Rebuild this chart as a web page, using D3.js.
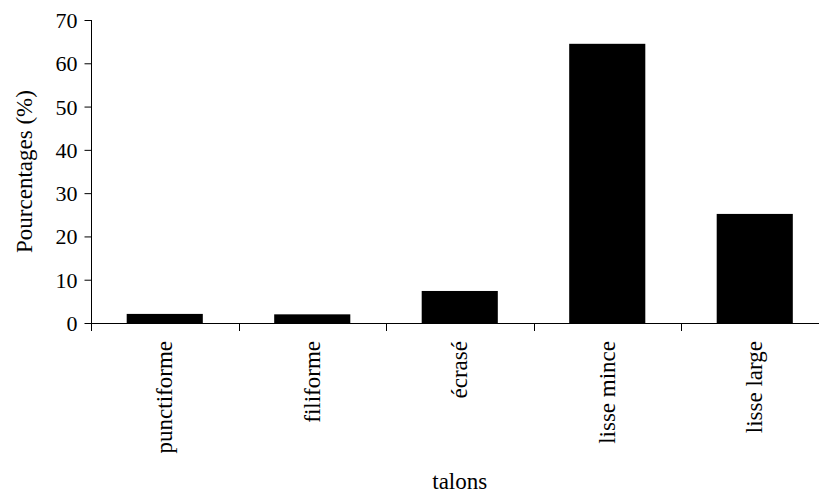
<!DOCTYPE html>
<html><head><meta charset="utf-8">
<script src="https://cdn.jsdelivr.net/npm/d3@7"></script>
</head><body style="margin:0;background:#fff;font-family:'Times New Roman',serif">
<svg id="c" width="819" height="493" style="font-family:'Times New Roman',serif"></svg>
<script>
const categories = ["punctiforme","filiforme","écrasé","lisse mince","lisse large"];
const values = [2.1, 2.0, 7.4, 64.5, 25.2];
const yTicks = [0,10,20,30,40,50,60,70];
const yTitle = "Pourcentages (%)";
const xTitle = "talons";

(function(){
const FONT = "Times New Roman";
const svg = d3.select("#c");
const mL = 91, mR = 828.5, mT = 20, mB = 323;
const x = d3.scaleBand().domain(categories).range([mL, mR]).paddingInner(0.484).paddingOuter(0.242);
const y = d3.scaleLinear().domain([0,70]).range([mB, mT]);

svg.append("g").selectAll("rect").data(values).join("rect")
  .attr("x", (d,i)=>x(categories[i]))
  .attr("width", x.bandwidth())
  .attr("y", d=>y(d))
  .attr("height", d=>y(0)-y(d))
  .attr("fill","#000");

const ya = svg.append("g").attr("transform",`translate(${mL+0.5},0)`)
  .call(d3.axisLeft(y).tickValues(yTicks).tickSize(7).tickPadding(7).tickFormat(d3.format("d")));
ya.attr("font-family", null).attr("font-size", null);
ya.select(".domain").remove();
ya.selectAll(".tick line").attr("stroke","#000");
ya.selectAll(".tick text").style("font-family",FONT).style("font-size","22px").attr("dy","0.34em").attr("fill","#000");
svg.append("line").attr("x1",mL+0.5).attr("x2",mL+0.5).attr("y1",mT).attr("y2",mB+8).attr("stroke","#000");

svg.append("line").attr("x1",mL).attr("x2",819).attr("y1",mB+0.5).attr("y2",mB+0.5).attr("stroke","#000");
const bounds = d3.range(1, categories.length).map(i => mL + i*x.step());
svg.append("g").selectAll("line").data(bounds).join("line")
  .attr("x1",d=>Math.round(d)+0.5).attr("x2",d=>Math.round(d)+0.5)
  .attr("y1",mB).attr("y2",mB+8).attr("stroke","#000");

svg.append("g").selectAll("text").data(categories).join("text")
  .attr("transform", d=>`translate(${x(d)+x.bandwidth()/2},341) rotate(-90)`)
  .attr("text-anchor","end").attr("dy","0.33em")
  .style("font-family",FONT).style("font-size","23px").text(d=>d);

svg.append("text").attr("transform",`translate(32,${(mT+mB)/2}) rotate(-90)`)
  .attr("text-anchor","middle").style("font-family",FONT).style("font-size","23px").text(yTitle);
svg.append("text").attr("x",(mL+mR)/2).attr("y",489).attr("text-anchor","middle")
  .style("font-family",FONT).style("font-size","23px").text(xTitle);
})();
</script>
</body></html>
